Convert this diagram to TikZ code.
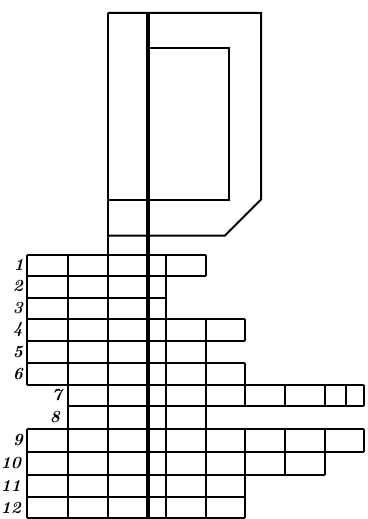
\documentclass[tikz,border=0pt]{standalone}
\begin{document}
\begin{tikzpicture}[x=1pt,y=-1pt,line width=2pt,line join=miter,
  thickln/.style={line width=3.2pt},
  numlbl/.style={font=\fontsize{17}{17}\selectfont\bfseries\itshape,inner sep=0pt,anchor=east}]
\useasboundingbox (0,0) rectangle (367,519);
% upper D shape
\draw (107.5,13) -- (261,13) -- (261,199.5) -- (225,235.5) -- (107.5,235.5);
\draw (107.5,200) -- (229,200) -- (229,48) -- (148,48);
% horizontal grid lines
\draw (27,254.5) -- (206,254.5);
\draw (27,275.5) -- (206,275.5);
\draw (27,297.5) -- (166,297.5);
\draw (27,319) -- (245,319);
\draw (27,341) -- (245,341);
\draw (27,363) -- (245,363);
\draw (27,385) -- (364,385);
\draw (68,405.5) -- (364,405.5);
\draw (27,428.5) -- (364,428.5);
\draw (27,451.5) -- (364,451.5);
\draw (27,475) -- (325,475);
\draw (27,497) -- (245,497);
\draw (27,518) -- (245,518);
% vertical grid lines
\draw (27,254.5) -- (27,385) (27,428.5) -- (27,518);
\draw (68,254.5) -- (68,518);
\draw (107.5,13) -- (107.5,518);
\draw[thickln] (148,13) -- (148,518);
\draw (166,254.5) -- (166,518);
\draw (206,254.5) -- (206,275.5) (206,319) -- (206,518);
\draw (245,319) -- (245,341) (245,363) -- (245,405.5) (245,428.5) -- (245,518);
\draw (285,385) -- (285,405.5) (285,428.5) -- (285,475);
\draw (325,385) -- (325,405.5) (325,428.5) -- (325,475);
\draw (346,385) -- (346,405.5);
\draw (364,385) -- (364,405.5) (364,428.5) -- (364,451.5);
% row numbers
\node[numlbl] (n1) at (25,265) {1};
\node[numlbl] (n2) at (24,286.5) {2};
\node[numlbl] (n3) at (24,308) {3};
\node[numlbl] (n4) at (24,330) {4};
\node[numlbl] (n5) at (24,352) {5};
\node[numlbl] (n6) at (24,374) {6};
\node[numlbl] (n7) at (63,395) {7};
\node[numlbl] (n8) at (61,417) {8};
\node[numlbl] (n9) at (24,440) {9};
\node[numlbl] (n10) at (22,463) {10};
\node[numlbl] (n11) at (22,486) {11};
\node[numlbl] (n12) at (22,508) {12};
\end{tikzpicture}
\end{document}
